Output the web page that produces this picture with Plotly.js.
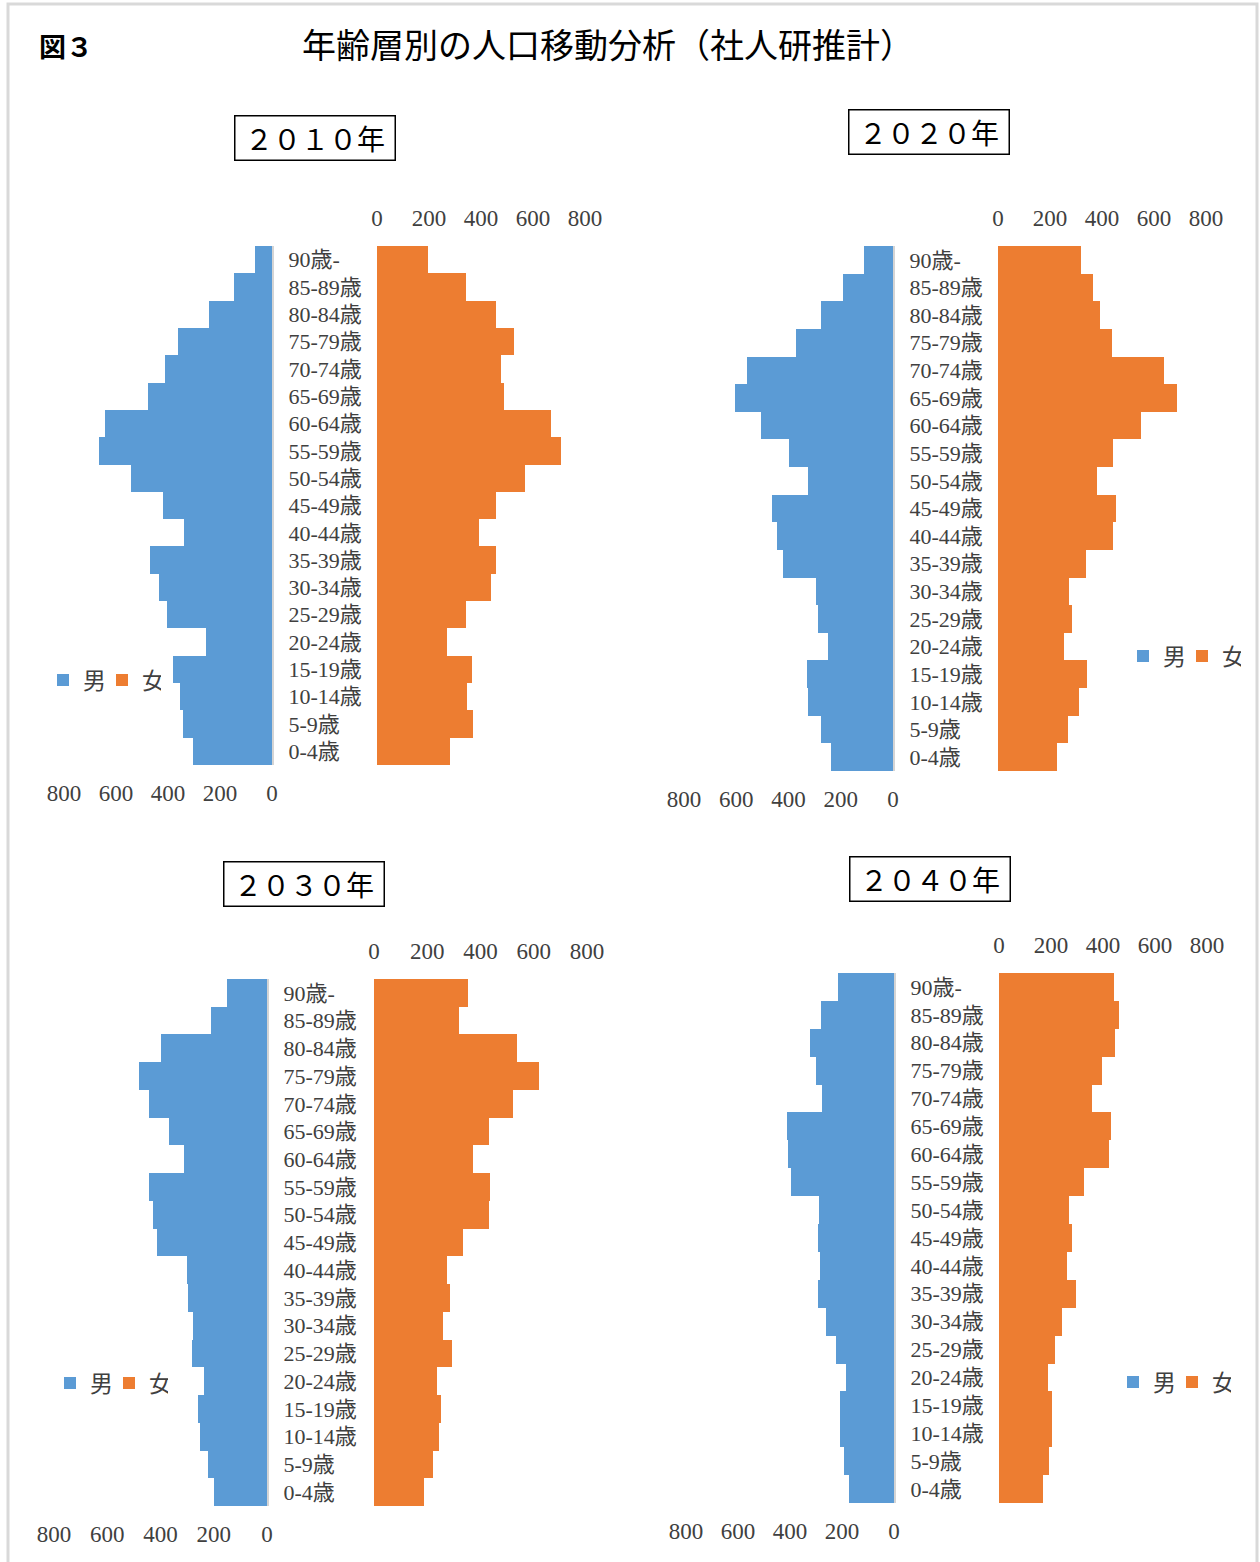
<!DOCTYPE html>
<html>
<head>
<meta charset="utf-8">
<script src="https://cdn.plot.ly/plotly-3.0.1.min.js"></script>
<style>
  html, body { margin: 0; padding: 0; background: #ffffff; overflow: hidden; }
  #chart { width: 1260px; height: 1562px; overflow: hidden; }
</style>
</head>
<body>
<div id="chart"></div>
<script>
// ---------------- DATA ----------------
const ageGroups = ['0-4歳','5-9歳','10-14歳','15-19歳','20-24歳','25-29歳','30-34歳','35-39歳','40-44歳','45-49歳','50-54歳','55-59歳','60-64歳','65-69歳','70-74歳','75-79歳','80-84歳','85-89歳','90歳-'];
const years = ['２０１０年','２０２０年','２０３０年','２０４０年'];
const seriesNames = ['男','女'];
const axisTicks = [0, 200, 400, 600, 800];

const male2010   = [303,344,353,380,254,404,436,469,337,421,543,664,641,476,410,363,243,147,64];
const female2010 = [280,370,346,367,270,341,439,457,391,459,569,707,670,487,477,526,459,343,196];
const male2020   = [237,275,325,329,249,286,295,420,445,464,325,400,507,604,559,373,277,192,111];
const female2020 = [226,271,311,344,255,285,272,339,443,453,381,441,551,687,640,440,392,366,318];
const male2030   = [199,223,252,260,237,281,279,296,299,414,430,443,311,369,444,479,399,209,150];
const female2030 = [189,221,245,251,238,294,260,287,275,333,431,435,373,433,523,621,538,318,352];
const male2040   = [175,193,207,207,183,223,261,293,283,293,288,396,406,410,278,301,322,280,217];
const female2040 = [170,192,203,203,187,216,244,295,263,280,268,325,422,430,358,395,447,462,441];

const maleSeries = [male2010, male2020, male2030, male2040];
const femaleSeries = [female2010, female2020, female2030, female2040];

// ---------------- LAYOUT GEOMETRY (pixels) ----------------
const W = 1260, H = 1562;
const fx = p => p / W;
const fy = p => 1 - p / H;

const panels = [
  { male: [64, 272],   female: [377, 585],   y: [246, 765],   box: [314.5, 138.5], legend: [43, 680] },
  { male: [684, 893],  female: [998, 1206],  y: [246, 771],   box: [929, 131.5],   legend: [1123, 656] },
  { male: [54, 267],   female: [374, 587],   y: [979, 1506],  box: [304, 884.5],   legend: [50, 1383] },
  { male: [686, 894],  female: [999, 1207],  y: [973, 1503],  box: [930, 878.5],   legend: [1113, 1382] }
];

const BLUE = '#5B9BD5';
const ORANGE = '#ED7D31';
const TEXT = '#404040';
const xTickFont = { family: 'Liberation Serif, "Noto Sans CJK JP", serif', size: 23, color: TEXT };
const yTickFont = { family: 'Liberation Serif, "Noto Sans CJK JP", serif', size: 22, color: TEXT };

const traces = [];
const layout = {
  width: W, height: H,
  margin: { l: 0, r: 0, t: 0, b: 0 },
  paper_bgcolor: '#ffffff',
  plot_bgcolor: 'rgba(0,0,0,0)',
  bargap: 0,
  barmode: 'overlay',
  showlegend: true,
  annotations: [],
  shapes: []
};

panels.forEach((p, i) => {
  const mx = 2 * i + 1, fxn = 2 * i + 2;
  const mxName = 'x' + mx, fxName = 'x' + fxn;
  const myName = 'y' + mx, fyName = 'y' + fxn;
  const legName = i === 0 ? 'legend' : 'legend' + (i + 1);

  traces.push({
    type: 'bar', orientation: 'h', name: seriesNames[0],
    y: ageGroups, x: maleSeries[i],
    xaxis: mxName, yaxis: myName,
    marker: { color: BLUE, line: { width: 0 } },
    legend: legName, hoverinfo: 'x+y'
  });
  traces.push({
    type: 'bar', orientation: 'h', name: seriesNames[1],
    y: ageGroups, x: femaleSeries[i],
    xaxis: fxName, yaxis: fyName,
    marker: { color: ORANGE, line: { width: 0 } },
    legend: legName, hoverinfo: 'x+y'
  });

  const xKeyM = 'xaxis' + mx, xKeyF = 'xaxis' + fxn;
  const yKeyM = 'yaxis' + mx, yKeyF = 'yaxis' + fxn;

  layout[xKeyM] = {
    domain: [fx(p.male[0]), fx(p.male[1])],
    anchor: myName, side: 'bottom',
    range: [800, 0], tickvals: axisTicks, ticktext: axisTicks.map(String),
    showgrid: false, zeroline: false, showline: false, ticks: '',
    tickfont: xTickFont, ticklabelstandoff: 12, fixedrange: true
  };
  layout[xKeyF] = {
    domain: [fx(p.female[0]), fx(p.female[1])],
    anchor: fyName, side: 'top',
    range: [0, 800], tickvals: axisTicks, ticktext: axisTicks.map(String),
    showgrid: false, zeroline: false, showline: false, ticks: '',
    tickfont: xTickFont, ticklabelstandoff: 14, fixedrange: true
  };
  layout[yKeyM] = {
    domain: [fy(p.y[1]), fy(p.y[0])],
    anchor: mxName, side: 'right',
    type: 'category', categoryorder: 'array', categoryarray: ageGroups,
    range: [-0.5, ageGroups.length - 0.5],
    showgrid: false, zeroline: false,
    showline: true, linecolor: '#d4d4d4', linewidth: 2,
    ticks: '', tickfont: yTickFont, ticklabelstandoff: 10, fixedrange: true
  };
  layout[yKeyF] = {
    domain: [fy(p.y[1]), fy(p.y[0])],
    anchor: fxName, side: 'left',
    type: 'category', categoryorder: 'array', categoryarray: ageGroups,
    range: [-0.5, ageGroups.length - 0.5],
    showgrid: false, zeroline: false, showline: false,
    showticklabels: false, ticks: '', fixedrange: true
  };

  layout[legName] = {
    orientation: 'h',
    x: fx(p.legend[0]), y: fy(p.legend[1]),
    xanchor: 'left', yanchor: 'middle',
    xref: 'paper', yref: 'paper',
    font: { family: '"Noto Sans CJK JP", sans-serif', size: 23, color: TEXT },
    bgcolor: 'rgba(0,0,0,0)', borderwidth: 0,
    entrywidth: 14, entrywidthmode: 'pixels',
    traceorder: 'normal', itemclick: false, itemdoubleclick: false
  };

  layout.annotations.push({
    text: years[i],
    xref: 'paper', yref: 'paper',
    x: fx(p.box[0]), y: fy(p.box[1]),
    xanchor: 'center', yanchor: 'middle',
    showarrow: false,
    font: { family: '"Noto Sans CJK JP", serif', size: 28, color: '#000000' },
    bordercolor: '#000000', borderwidth: 1.5, borderpad: 3,
    width: 153, height: 37, align: 'center', valign: 'middle'
  });
});

// Figure title and label
layout.annotations.push({
  text: '年齢層別の人口移動分析（社人研推計）',
  xref: 'paper', yref: 'paper', x: fx(608), y: fy(44),
  xanchor: 'center', yanchor: 'middle', showarrow: false,
  font: { family: '"Noto Sans CJK JP", sans-serif', size: 34, color: '#000000' }
});
layout.annotations.push({
  text: '<b>図３</b>',
  xref: 'paper', yref: 'paper', x: fx(37), y: fy(45),
  xanchor: 'left', yanchor: 'middle', showarrow: false,
  font: { family: '"Noto Sans CJK JP", sans-serif', size: 27, color: '#000000' }
});

// Outer frame (light grey)
layout.shapes.push({
  type: 'rect', xref: 'paper', yref: 'paper',
  x0: fx(8), x1: fx(1257), y0: fy(1575), y1: fy(4),
  line: { color: '#d9d9d9', width: 3 }, fillcolor: 'rgba(0,0,0,0)', layer: 'below'
});

Plotly.newPlot('chart', traces, layout, { displayModeBar: false, staticPlot: true });
</script>
</body>
</html>
